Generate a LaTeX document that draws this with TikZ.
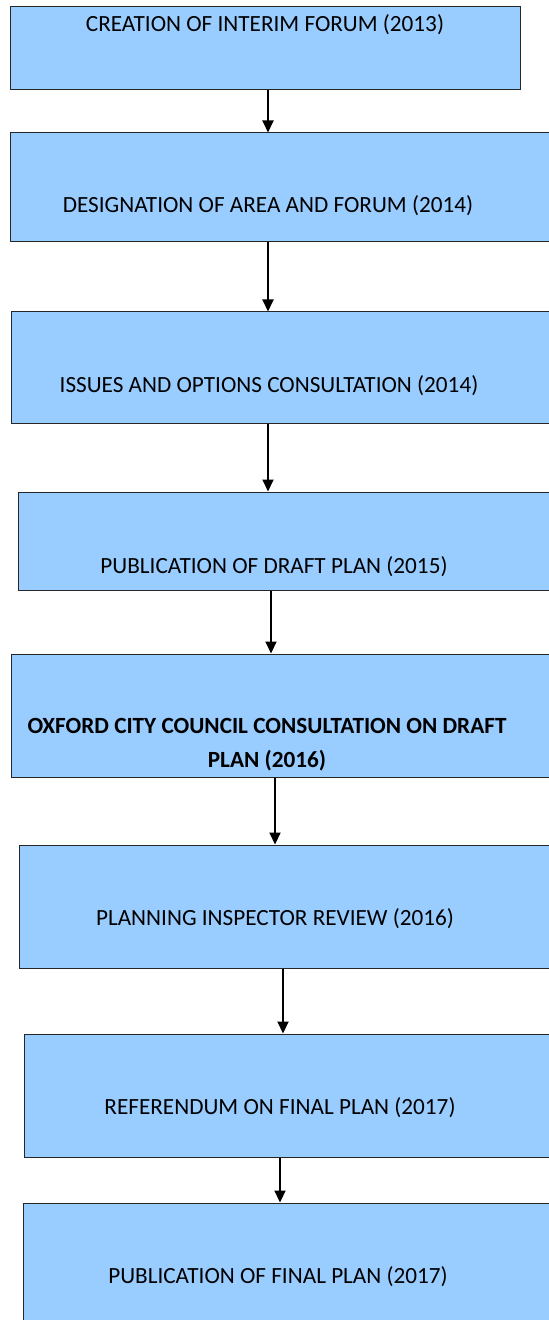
\documentclass[tikz,border=0pt]{standalone}
\usepackage{fontspec}
\setmainfont{Carlito}
\usetikzlibrary{fit,arrows.meta}

\definecolor{stageblue}{RGB}{153,204,255}

\begin{document}
\begin{tikzpicture}[x=0.5pt, y=-0.5pt,
  stage/.style={rectangle, draw=black!85, fill=stageblue, line width=0.5pt, inner sep=0pt},
  stagetext/.style={anchor=base, inner sep=0pt, align=center, font=\fontsize{11.6}{17}\selectfont},
  flow/.style={-{Triangle[length=6pt, width=5.5pt]}, line width=1pt}]

\useasboundingbox (0,0) rectangle (549,1320);
\clip (0,0) rectangle (549,1320);

% boxes
\foreach \name/\l/\t/\r/\b in {b1/10/7/520/90, b2/10/133/560/242, b3/11/312/560/423,
    b4/18/492/560/590, b5/11/654/560/777, b6/19/845/560/968, b7/24/1034/560/1157,
    b8/23/1203/560/1330}
  \node[stage, fit={(\l,\t) (\r,\b)}] (\name) {};

% labels
\node[stagetext] (t1) at (265,32) {CREATION OF INTERIM FORUM (2013)};
\node[stagetext] (t2) at (268,213) {DESIGNATION OF AREA AND FORUM (2014)};
\node[stagetext] (t3) at (269,393) {ISSUES AND OPTIONS CONSULTATION (2014)};
\node[stagetext] (t4) at (274,573) {PUBLICATION OF DRAFT PLAN (2015)};
\node[stagetext, font=\fontsize{11.6}{17}\selectfont\bfseries] (t5) at (267,767)
  {OXFORD CITY COUNCIL CONSULTATION ON DRAFT\\PLAN (2016)};
\node[stagetext] (t6) at (275,925) {PLANNING INSPECTOR REVIEW (2016)};
\node[stagetext] (t7) at (280,1114) {REFERENDUM ON FINAL PLAN (2017)};
\node[stagetext] (t8) at (278,1283) {PUBLICATION OF FINAL PLAN (2017)};

% arrows
\foreach \a/\b/\x in {b1/b2/268, b2/b3/268, b3/b4/268, b4/b5/271, b5/b6/275,
    b6/b7/283, b7/b8/280}
{
  \coordinate (m\a) at (\x,0);
  \draw[flow] (\a.south -| m\a) -- (\b.north -| m\a);
}

\end{tikzpicture}
\end{document}
